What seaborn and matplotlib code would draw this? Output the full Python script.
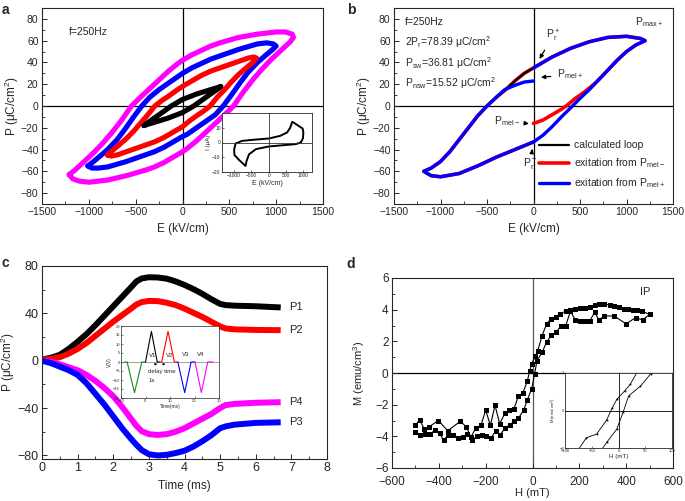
import matplotlib
matplotlib.use("Agg")
import matplotlib.pyplot as plt
from matplotlib.ticker import MultipleLocator
import seaborn as sns

# ---------------- data: panel a (P-E loops, upper branch then lower branch) ----------------
mag_up_E = [-1210, -1150, -1050, -950, -850, -750, -650, -545, -450, -350, -250, -150, -50, 0, 100, 200, 300,
            400, 600, 800, 1000, 1100, 1170, 1185]
mag_up_P = [-63, -59, -51, -43, -34, -24, -13, 0, 8, 16, 24, 32, 39, 42, 47, 51, 55, 58, 63, 66, 68, 68, 66, 63]
mag_lo_E = [1185, 1150, 1050, 950, 850, 750, 650, 545, 450, 350, 250, 150, 50, 0, -100, -200, -300,
            -400, -600, -800, -1000, -1100, -1170, -1210]
mag_lo_P = [63, 59, 51, 43, 34, 24, 13, 0, -8, -16, -24, -32, -39, -42, -47, -52, -56, -59, -64, -68, -70, -69, -67, -63]

blu_up_E = [-1010, -950, -880, -800, -700, -620, -530, -435, -350, -250, -150, -50, 0, 100, 200, 300, 400, 600,
            800, 900, 970, 1000]
blu_up_P = [-55, -51, -46, -40, -31, -22, -11, 0, 8, 15, 21, 27, 30, 35, 39, 43, 46, 52, 57, 58, 57, 55]
blu_lo_E = [1000, 950, 880, 800, 700, 620, 530, 435, 350, 250, 150, 50, 0, -100, -200, -300, -400, -600,
            -800, -900, -970, -1010]
blu_lo_P = [55, 51, 46, 40, 31, 22, 11, 0, -8, -14, -20, -26, -28, -33, -38, -42, -45, -51, -56, -57, -57, -55]

red_up_E = [-800, -750, -680, -600, -520, -450, -370, -295, -220, -150, -70, 0, 100, 200, 300, 400, 500, 600,
            700, 760, 790]
red_up_P = [-45, -41, -36, -30, -23, -16, -8, 0, 5, 9, 14, 18, 23, 28, 32, 35, 38, 41, 44, 45, 44]
red_lo_E = [790, 750, 680, 600, 520, 450, 370, 295, 220, 150, 70, 0, -100, -200, -300, -400, -500, -600,
            -700, -760, -800]
red_lo_P = [44, 40, 35, 29, 22, 15, 8, 0, -5, -9, -14, -19, -24, -29, -33, -36, -39, -42, -45, -46, -45]

blk_up_E = [-410, -350, -250, -120, 0, 150, 300, 380, 410]
blk_up_P = [-18, -14, -8, 0, 6, 11, 15, 17, 18]
blk_lo_E = [410, 350, 250, 120, 0, -150, -300, -380, -410]
blk_lo_P = [18, 14, 8, 0, -6, -11, -15, -17, -18]

# inset a: I-E loop
ins_a_E = [930, 780, 430, 0, -370, -570, -640, -670, -720, -850, -990, -1000, -960, -770, -470, 0,
           330, 530, 620, 680, 740, 880, 980, 1000, 990, 930]
ins_a_I = [0, -1.1, -1.8, -2.7, -4.5, -8, -12.5, -15.9, -14.8, -12, -8.5, -5, -0.7, 1.1, 1.8, 2.7,
           4.5, 6.8, 10, 14, 13.2, 11, 9.5, 7, 3, 0]

# ---------------- data: panel b ----------------
b_low_E = [-1180, -1100, -1000, -800, -600, -400, -200, 0, 100, 200, 300, 420, 500, 600, 700, 800, 900, 1000, 1100, 1200]
b_low_P = [-60, -64, -65, -62, -55, -47, -40, -33, -27, -19, -10, 0, 7, 15, 24, 33, 42, 50, 56, 60]
b_up_E = [1200, 1150, 1000, 800, 600, 400, 200, 0, -100, -200, -300, -400, -500, -600, -700, -800, -900, -1000, -1100, -1180]
b_up_P = [60, 62, 64, 63, 59, 53, 45, 35, 30, 23, 15, 8, 0, -9, -20, -31, -42, -51, -57, -60]
b_mel_minus_E = [0, 100, 200, 300, 352, 450, 550, 650]
b_mel_minus_P = [-16, -13, -8, -3, 0, 7, 13, 20]
b_mel_plus_E = [0, -100, -200, -310]
b_mel_plus_P = [23, 22, 19, 15]

# ---------------- data: panel c ----------------
t_ms = [0, 0.25, 0.5, 0.75, 1.0, 1.25, 1.5, 1.75, 2.0, 2.25, 2.5, 2.65, 2.8, 3.0, 3.25, 3.5, 3.75, 4.0,
        4.25, 4.5, 4.75, 5.0, 5.15, 5.4, 6.0, 6.7]
P1 = [1, 2.5, 5, 10, 16, 22.5, 30, 38, 46, 54, 62, 67, 69.5, 70.5, 70.3, 69.3, 67, 64,
      60.5, 56.5, 52, 48, 47, 46.5, 46, 45]
P2 = [1, 1.5, 3, 6, 10, 15, 21, 27, 33, 38.5, 44, 47.5, 49.5, 50.5, 50.3, 49, 47, 44,
      40.5, 37, 33, 29, 27.3, 26.5, 26, 25.8]
P4 = [0, -1, -3, -5.5, -8, -12, -17, -23, -30, -39, -49, -55, -59.5, -62, -62.7, -62, -60, -57,
      -53, -49, -45, -40, -37.5, -36.5, -35.5, -35]
P3 = [0, -2, -5, -8, -12, -19, -28, -37, -47, -57, -66, -71, -75.5, -79, -80, -79.5, -78, -76,
      -72.5, -68, -63, -57, -55.5, -54, -52.5, -52]
c_labels = ["P1", "P2", "P4", "P3"]
c_label_y = [45, 26, -35, -52]

# inset c: voltage pulses
pulse_green_t = [-8.5, -7.5, -4.5, -1.5, 0]
pulse_green_v = [0, 0, -17, 0, 0]
pulse_black_t = [0, 2.4, 4.8, 5.6]
pulse_black_v = [0, 17, 0, 0]
pulse_red_t = [5.6, 6.6, 9.2, 11.8, 13.2]
pulse_red_v = [0, 0, 17, 0, 0]
pulse_blue_t = [13.2, 16.0, 18.6, 20.2]
pulse_blue_v = [0, -17, 0, 0]
pulse_mag_t = [20.2, 22.8, 25.4, 27.6]
pulse_mag_v = [0, -17, 0, 0]

# ---------------- data: panel d ----------------
dA_H = [-500, -482, -462, -442, -402, -362, -308, -283, -263, -243, -220, -200, -180, -160, -140, -118,
        -100, -80, -60, -41, -22, -12, -3, 12, 22, 41, 60, 78, 99, 119, 141, 162, 183, 202, 223, 245,
        266, 283, 306, 330, 349, 368, 391, 408, 429, 448, 468, 500]
dA_M = [-3.3, -2.95, -3.55, -3.4, -3.0, -3.65, -3.05, -3.4, -4.05, -3.5, -3.3, -2.35, -3.3, -2.05, -3.2, -2.55,
        -2.35, -2.3, -1.45, -1.26, -0.5, 0.13, 0.6, 1.06, 1.4, 2.35, 3.1, 3.4, 3.55, 3.75, 3.9, 4.0,
        4.05, 4.1, 4.1, 4.2, 4.3, 4.35, 4.35, 4.3, 4.25, 4.15, 4.05, 4.05, 4.0, 3.95, 3.9, 3.7]
dB_H = [-500, -480, -458, -437, -418, -397, -380, -359, -338, -319, -298, -278, -259, -238, -217, -198,
        -178, -158, -138, -117, -98, -78, -60, -38, -22, -3, 9, 19, 41, 60, 81, 102, 123, 141, 162,
        183, 202, 223, 245, 266, 283, 306, 349, 400, 440, 470, 500]
dB_M = [-3.71, -3.9, -3.85, -3.85, -3.62, -3.79, -4.25, -3.9, -3.9, -4.11, -4.04, -3.83, -4.25, -4.0, -3.9, -4.0,
        -4.11, -3.69, -3.9, -3.48, -3.27, -3.06, -2.85, -2.36, -1.7, -0.98, -0.06, 0.78, 1.3, 1.95, 2.4, 2.6,
        3.0, 2.95, 3.9, 3.35, 3.3, 3.3, 3.3, 3.85, 3.35, 3.6, 3.6, 3.1, 3.5, 3.35, 3.7]

# ---------------- style ----------------
sns.set_style("ticks")
plt.rcParams['font.family'] = ['Liberation Sans', 'DejaVu Sans']
plt.rcParams['mathtext.default'] = 'regular'
plt.rcParams['xtick.direction'] = 'in'
plt.rcParams['ytick.direction'] = 'in'
plt.rcParams['axes.linewidth'] = 0.8
plt.rcParams['xtick.major.size'] = 3.5
plt.rcParams['ytick.major.size'] = 3.5
plt.rcParams['xtick.minor.size'] = 2
plt.rcParams['ytick.minor.size'] = 2
plt.rcParams['xtick.major.width'] = 0.7
plt.rcParams['ytick.major.width'] = 0.7
plt.rcParams['xtick.minor.width'] = 0.6
plt.rcParams['ytick.minor.width'] = 0.6
plt.rcParams['xtick.major.pad'] = 2.5
plt.rcParams['ytick.major.pad'] = 2.5

W, H = 685, 501
fig = plt.figure(figsize=(W / 100, H / 100), dpi=100)


def px_axes(l, t, r, b, **kw):
    return fig.add_axes([l / W, 1 - b / H, (r - l) / W, (b - t) / H], **kw)


def line(ax, x, y, **kw):
    sns.lineplot(x=x, y=y, ax=ax, sort=False, estimator=None, legend=False, **kw)


MAG, BLU, RED = '#ff00ff', '#0000ff', '#ff0000'

# ================= panel a =================
axa = px_axes(42, 8, 323, 204)
for upE, upP, loE, loP, col in [
        (mag_up_E, mag_up_P, mag_lo_E, mag_lo_P, MAG),
        (blu_up_E, blu_up_P, blu_lo_E, blu_lo_P, BLU),
        (red_up_E, red_up_P, red_lo_E, red_lo_P, RED),
        (blk_up_E, blk_up_P, blk_lo_E, blk_lo_P, 'k')]:
    line(axa, upE + loE, upP + loP, color=col, lw=3.7, solid_joinstyle='round', solid_capstyle='round')
axa.axhline(0, color='k', lw=0.9, zorder=0.5)
axa.axvline(0, color='k', lw=0.9, zorder=0.5)
axa.set_xlim(-1500, 1500)
axa.set_ylim(-90, 90)
axa.xaxis.set_major_locator(MultipleLocator(500))
axa.xaxis.set_minor_locator(MultipleLocator(250))
axa.yaxis.set_major_locator(MultipleLocator(20))
axa.yaxis.set_minor_locator(MultipleLocator(10))
axa.tick_params(labelsize=7.5)
axa.set_xlabel("E (kV/cm)", fontsize=8.5, labelpad=4)
axa.set_ylabel("P (μC/cm$^2$)", fontsize=8.5, labelpad=0)
axa.text(-1210, 68, "f=250Hz", fontsize=7.5, va='center')

axai = px_axes(222, 113, 312, 172)
line(axai, ins_a_E, ins_a_I, color='k', lw=1.4)
axai.axhline(0, color='#333333', lw=0.6)
axai.axvline(0, color='#333333', lw=0.6)
axai.set_xlim(-1350, 1250)
axai.set_ylim(-20, 20)
axai.set_xticks([-1000, -500, 0, 500, 1000])
axai.set_yticks([-20, -10, 0, 10, 20])
axai.tick_params(labelsize=3.5, length=1.5, width=0.5, pad=1)
for s in axai.spines.values():
    s.set_linewidth(0.6)
axai.set_xlabel("E (kV/cm)", fontsize=5, labelpad=1)
axai.set_ylabel("I (μA)", fontsize=4.5, labelpad=1)

# ================= panel b =================
axb = px_axes(394, 8, 673, 204)
red_path_E = b_mel_minus_E + b_low_E[14:] + b_up_E + b_low_E[:8]
red_path_P = b_mel_minus_P + b_low_P[14:] + b_up_P + b_low_P[:8]
blue_path_E = b_mel_plus_E + b_up_E[11:] + b_low_E + b_up_E[:8]
blue_path_P = b_mel_plus_P + b_up_P[11:] + b_low_P + b_up_P[:8]
line(axb, red_path_E, red_path_P, color=RED, lw=2.6, label="exitation from P$_{mel-}$")
line(axb, b_up_E + b_low_E, b_up_P + b_low_P, color='k', lw=1.6, label="calculated loop")
line(axb, blue_path_E, blue_path_P, color=BLU, lw=2.4, label="exitation from P$_{mel+}$")
axb.axhline(0, color='k', lw=0.9, zorder=0.5)
axb.axvline(0, color='k', lw=0.9, zorder=0.5)
axb.set_xlim(-1500, 1500)
axb.set_ylim(-90, 90)
axb.xaxis.set_major_locator(MultipleLocator(500))
axb.xaxis.set_minor_locator(MultipleLocator(250))
axb.yaxis.set_major_locator(MultipleLocator(20))
axb.yaxis.set_minor_locator(MultipleLocator(10))
axb.tick_params(labelsize=7.5)
axb.set_xlabel("E (kV/cm)", fontsize=8.5, labelpad=4)
axb.set_ylabel("P (μC/cm$^2$)", fontsize=8.5, labelpad=0)
axb.text(-1380, 77, "f=250Hz", fontsize=7.5, va='center')
axb.text(-1380, 59, "2P$_r$=78.39 μC/cm$^2$", fontsize=7.5, va='center')
axb.text(-1380, 39, "P$_{sw}$=36.81 μC/cm$^2$", fontsize=7.5, va='center')
axb.text(-1380, 21, "P$_{nsw}$=15.52 μC/cm$^2$", fontsize=7.5, va='center')
axb.text(1090, 77, "P$_{max+}$", fontsize=7.5, va='center')
arrow = dict(arrowstyle='-|>', color='k', lw=0.9, mutation_scale=6)
axb.annotate("P$^+_r$", xy=(50, 41), xytext=(130, 64), fontsize=7.5, va='center', arrowprops=arrow)
axb.annotate("P$_{mel+}$", xy=(50, 26), xytext=(250, 29), fontsize=7.5, va='center', arrowprops=arrow)
axb.annotate("P$_{mel-}$", xy=(-20, -16.5), xytext=(-430, -14), fontsize=7.5, va='center', arrowprops=arrow)
axb.annotate("P$^-_r$", xy=(-10, -37), xytext=(-110, -53), fontsize=7.5, va='center', arrowprops=arrow)
h, l = axb.get_legend_handles_labels()
order = [1, 0, 2]
axb.legend([h[i] for i in order], [l[i] for i in order], loc='upper left',
           bbox_to_anchor=(0.52, 0.325), frameon=False, fontsize=7.5, handlelength=2.9,
           handletextpad=0.5, labelspacing=0.6, borderpad=0, borderaxespad=0)

# ================= panel c =================
axc = px_axes(42, 266, 327, 459)
for yv, col in [(P1, 'k'), (P2, RED), (P4, MAG), (P3, BLU)]:
    line(axc, t_ms, yv, color=col, lw=4.3, solid_joinstyle='round', solid_capstyle='butt')
for lab, yy in zip(c_labels, c_label_y):
    axc.text(6.95, yy, lab, fontsize=8, va='center')
axc.set_xlim(0, 8)
axc.set_ylim(-83, 80)
axc.xaxis.set_major_locator(MultipleLocator(1))
axc.xaxis.set_minor_locator(MultipleLocator(0.5))
axc.yaxis.set_major_locator(MultipleLocator(40))
axc.yaxis.set_minor_locator(MultipleLocator(20))
axc.tick_params(labelsize=9)
axc.set_xlabel("Time (ms)", fontsize=8.5, labelpad=4)
axc.set_ylabel("P (μC/cm$^2$)", fontsize=8.5, labelpad=0)

axci = px_axes(121, 326, 219, 398)
axci.set_facecolor('white')
for tt, vv, col in [(pulse_green_t, pulse_green_v, '#1a8a1a'), (pulse_black_t, pulse_black_v, 'k'),
                    (pulse_red_t, pulse_red_v, RED), (pulse_blue_t, pulse_blue_v, BLU),
                    (pulse_mag_t, pulse_mag_v, MAG)]:
    line(axci, tt, vv, color=col, lw=0.8)
axci.axhline(0, color='#777777', lw=0.5, zorder=0.5)
axci.set_xlim(-10, 30)
axci.set_ylim(-20, 20)
axci.set_xticks([-10, 0, 10, 20, 30])
axci.set_yticks([-20, -15, -10, -5, 0, 5, 10, 15, 20])
axci.tick_params(labelsize=3, length=1.2, width=0.4, pad=0.8)
for s in axci.spines.values():
    s.set_linewidth(0.5)
axci.set_xlabel("Time(ms)", fontsize=3.5, labelpad=0.5)
axci.set_ylabel("V(V)", fontsize=3.5, labelpad=0.5)
for tx, ty, s in [(1.4, 3.7, "V1"), (8.2, 3.7, "V2"), (14.8, 4.4, "V3"), (21.2, 4.4, "V4"),
                  (1.1, -5.2, "delay time"), (1.1, -10, "1s")]:
    axci.text(tx, ty, s, fontsize=4.3, va='center')
small = dict(arrowstyle='-|>', color='k', lw=0.5, mutation_scale=3)
axci.annotate("", xy=(4.8, -1.2), xytext=(2.6, -1.2), arrowprops=small)
axci.annotate("", xy=(6.6, -1.2), xytext=(8.8, -1.2), arrowprops=small)

# ================= panel d =================
axd = px_axes(392, 278, 673, 468)
line(axd, dA_H, dA_M, color='k', lw=0.8, marker='s', markersize=3.6, markeredgewidth=0)
line(axd, dB_H, dB_M, color='k', lw=0.8, marker='s', markersize=3.6, markeredgewidth=0)
axd.axhline(0, color='k', lw=0.9, zorder=0.5)
axd.axvline(0, color='#555555', lw=0.9, zorder=0.5)
axd.set_xlim(-600, 600)
axd.set_ylim(-6, 6)
axd.xaxis.set_major_locator(MultipleLocator(200))
axd.xaxis.set_minor_locator(MultipleLocator(100))
axd.yaxis.set_major_locator(MultipleLocator(2))
axd.yaxis.set_minor_locator(MultipleLocator(1))
axd.tick_params(labelsize=8.5)
axd.tick_params(axis='x', pad=5.5)
axd.set_xlabel("H (mT)", fontsize=8, labelpad=0)
axd.set_ylabel("M (emu/cm$^3$)", fontsize=8, labelpad=6)
axd.text(480, 5.1, "IP", fontsize=8, ha='center', va='center')

axdi = px_axes(565, 373, 672, 448)
axdi.set_facecolor('white')
line(axdi, dA_H, dA_M, color='k', lw=0.6, marker='s', markersize=1.2, markeredgewidth=0)
line(axdi, dB_H, dB_M, color='k', lw=0.6, marker='s', markersize=1.2, markeredgewidth=0)
axdi.axhline(0, color='k', lw=0.6)
axdi.axvline(0, color='k', lw=0.6)
axdi.set_xlim(-100, 100)
axdi.set_ylim(-2, 2)
axdi.set_xticks([-100, -50, 0, 50, 100])
axdi.set_yticks([-2, 0, 2])
axdi.tick_params(labelsize=3, length=1.2, width=0.4, pad=0.8)
for s in axdi.spines.values():
    s.set_linewidth(0.6)
axdi.set_xlabel("H (mT)", fontsize=4.5, labelpad=0.5)
axdi.set_ylabel("M (emu/cm$^3$)", fontsize=3, labelpad=0.5)

# panel letters
for x, y, s in [(2, 3, 'a'), (347, 3, 'b'), (2, 256, 'c'), (346, 257, 'd')]:
    fig.text(x / W, 1 - y / H, s, fontsize=10, fontweight='bold', va='top', ha='left')

fig.savefig("out.png", dpi=100)
